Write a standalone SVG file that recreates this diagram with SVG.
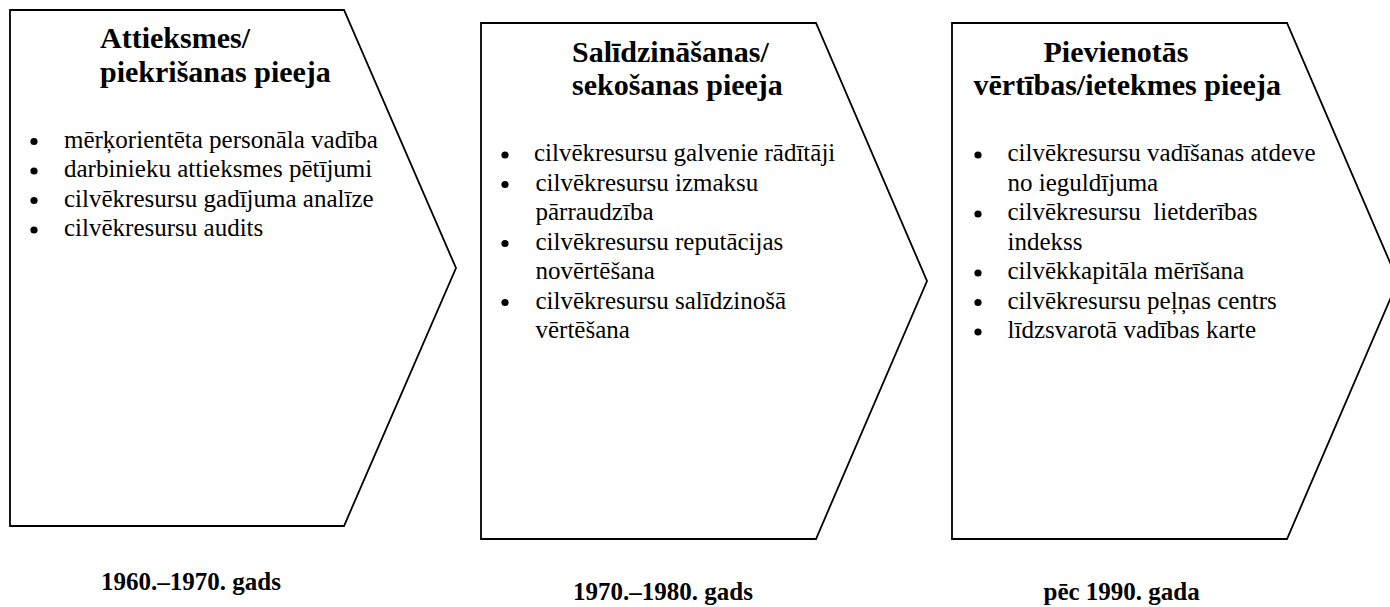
<svg xmlns="http://www.w3.org/2000/svg" width="1390" height="607" viewBox="0 0 1390 607" font-family="'Liberation Serif', 'Times New Roman', serif">
  <style>
    .stage { fill: #ffffff; stroke: #000000; stroke-width: 1.8; stroke-linejoin: miter; }
    .title { font-weight: bold; font-size: 30px; fill: #000000; }
    .item { font-size: 25px; fill: #000000; white-space: pre; }
    .period { font-weight: bold; font-size: 25px; fill: #000000; }
    .dot { fill: #000000; }
  </style>
  <defs>
    <circle id="bullet" class="dot" r="3.6"/>
  </defs>

  <rect width="1390" height="607" fill="#ffffff"/>

  <!-- Stage 1: attitude / acceptance approach -->
  <g id="stage-attitude" font-family="Liberation Serif">
    <polygon class="stage" points="10,10 344,10 456,268 344,526 10,526"/>
    <text class="title" x="100" y="47.5">Attieksmes/</text>
    <text class="title" x="100" y="81.5">piekrišanas pieeja</text>
    <use href="#bullet" x="34" y="141.5"/>
    <text class="item" x="64" y="147.5">mērķorientēta personāla vadība</text>
    <use href="#bullet" x="34" y="171"/>
    <text class="item" x="64" y="177">darbinieku attieksmes pētījumi</text>
    <use href="#bullet" x="34" y="200.5"/>
    <text class="item" x="64" y="206.5">cilvēkresursu gadījuma analīze</text>
    <use href="#bullet" x="34" y="230"/>
    <text class="item" x="64" y="236">cilvēkresursu audits</text>
    <text class="period" x="101" y="589.5">1960.–1970. gads</text>
  </g>

  <!-- Stage 2: comparison / tracking approach -->
  <g id="stage-comparison" font-family="Liberation Serif">
    <polygon class="stage" points="481,23 816,23 927,281 816,539 481,539"/>
    <text class="title" x="572" y="61.7">Salīdzināšanas/</text>
    <text class="title" x="572" y="95">sekošanas pieeja</text>
    <use href="#bullet" x="505" y="155"/>
    <text class="item" x="534" y="161">cilvēkresursu galvenie rādītāji</text>
    <use href="#bullet" x="505" y="184.5"/>
    <text class="item" x="535.5" y="190.5">cilvēkresursu izmaksu</text>
    <text class="item" x="535.5" y="220">pārraudzība</text>
    <use href="#bullet" x="505" y="243.5"/>
    <text class="item" x="535.5" y="249.5">cilvēkresursu reputācijas</text>
    <text class="item" x="535.5" y="279">novērtēšana</text>
    <use href="#bullet" x="505" y="302.5"/>
    <text class="item" x="535.5" y="308.5">cilvēkresursu salīdzinošā</text>
    <text class="item" x="535.5" y="338">vērtēšana</text>
    <text class="period" x="573" y="600">1970.–1980. gads</text>
  </g>

  <!-- Stage 3: added value / impact approach -->
  <g id="stage-value" font-family="Liberation Serif">
    <polygon class="stage" points="952,23 1287,23 1398,281 1287,539 952,539"/>
    <text class="title" x="1043.5" y="61.7">Pievienotās</text>
    <text class="title" x="973.5" y="95">vērtības/ietekmes pieeja</text>
    <use href="#bullet" x="978" y="155"/>
    <text class="item" x="1007.5" y="161">cilvēkresursu vadīšanas atdeve</text>
    <text class="item" x="1007.5" y="190.5">no ieguldījuma</text>
    <use href="#bullet" x="978" y="214"/>
    <text class="item" x="1007.5" y="220">cilvēkresursu  lietderības</text>
    <text class="item" x="1007.5" y="249.5">indekss</text>
    <use href="#bullet" x="978" y="273"/>
    <text class="item" x="1007.5" y="279">cilvēkkapitāla mērīšana</text>
    <use href="#bullet" x="978" y="302.5"/>
    <text class="item" x="1007.5" y="308.5">cilvēkresursu peļņas centrs</text>
    <use href="#bullet" x="978" y="332"/>
    <text class="item" x="1007.5" y="338">līdzsvarotā vadības karte</text>
    <text class="period" x="1043.5" y="600">pēc 1990. gada</text>
  </g>

  <!-- the stages are chevrons placed side by side; no separate connectors -->
  <g id="connectors"/>
</svg>
